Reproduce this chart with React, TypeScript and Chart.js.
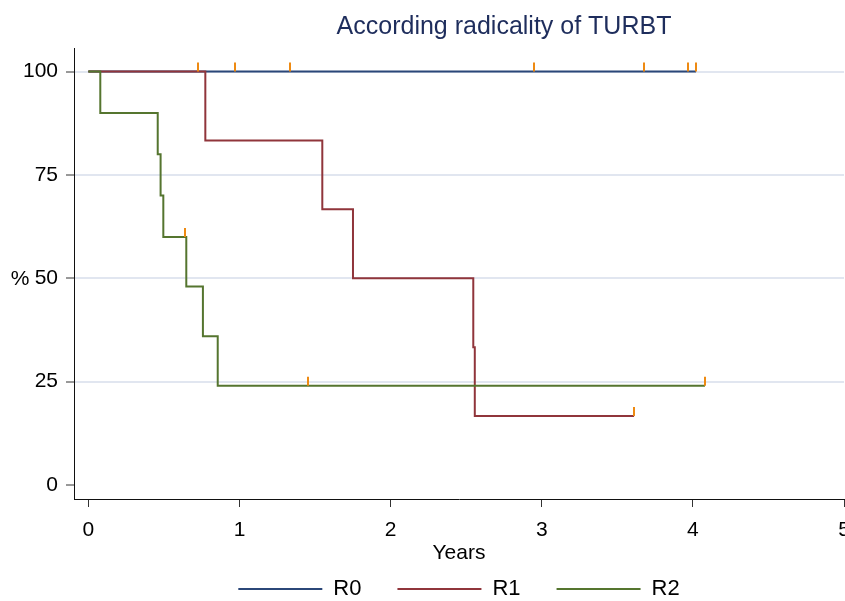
import React, { useEffect, useRef } from "react";
import { Chart, registerables } from "chart.js";

Chart.register(...registerables);

// ---- data ----
const seriesNames = ["R0", "R1", "R2"];
const seriesColors = ["#2b4778", "#90353b", "#55752f"];
const censorColor = "#ee8a12";

const r0Times = [0, 4.021];
const r0Surv = [100, 100];
const r1Times = [0, 0.774, 1.548, 1.751, 2.547, 2.557, 3.611];
const r1Surv = [100, 83.33, 66.67, 50, 33.33, 16.67, 16.67];
const r2Times = [0, 0.079, 0.459, 0.478, 0.496, 0.648, 0.758, 0.856, 4.08];
const r2Surv = [100, 90, 80, 70, 60, 48, 36, 24, 24];

const r0CensorTimes = [0.723, 0.972, 1.334, 2.951, 3.677, 3.968, 4.021];
const r0CensorSurv = [100, 100, 100, 100, 100, 100, 100];
const r1CensorTimes = [3.611];
const r1CensorSurv = [16.67];
const r2CensorTimes = [0.641, 1.453, 4.08];
const r2CensorSurv = [60, 24, 24];

const xTicks = [0, 1, 2, 3, 4, 5];
const yTicks = [0, 25, 50, 75, 100];

const titleText = "According radicality of TURBT";
const xTitle = "Years";
const yTitle = "%";

const FONT = "'Liberation Sans', Arial, Helvetica, sans-serif";

const toPoints = (t: number[], s: number[]) => t.map((x, i) => ({ x, y: s[i] }));

const censorPlugin = {
  id: "censorTicks",
  afterDatasetsDraw(chart: any) {
    const { ctx, scales } = chart;
    const xs = scales.x;
    const ys = scales.y;
    const groups: [number[], number[]][] = [
      [r0CensorTimes, r0CensorSurv],
      [r1CensorTimes, r1CensorSurv],
      [r2CensorTimes, r2CensorSurv],
    ];
    ctx.save();
    ctx.strokeStyle = censorColor;
    ctx.lineWidth = 2;
    groups.forEach(([ts, ss]) => {
      ts.forEach((t, i) => {
        const px = Math.round(xs.getPixelForValue(t));
        const py = ys.getPixelForValue(ss[i]);
        ctx.beginPath();
        ctx.moveTo(px, py);
        ctx.lineTo(px, py - 9);
        ctx.stroke();
      });
    });
    ctx.restore();
  },
};

const textPlugin = {
  id: "extraText",
  afterDraw(chart: any) {
    const { ctx, scales } = chart;
    ctx.save();
    ctx.fillStyle = "#1e2d5c";
    ctx.font = `25px ${FONT}`;
    ctx.textAlign = "center";
    ctx.textBaseline = "middle";
    ctx.fillText(titleText, 504, 27);
    ctx.fillStyle = "#000";
    ctx.font = `21px ${FONT}`;
    ctx.fillText(yTitle, 20, scales.y.getPixelForValue(50) + 1);
    ctx.restore();
  },
};

export default function App() {
  const ref = useRef<HTMLCanvasElement>(null);
  useEffect(() => {
    if (!ref.current) return;
    Chart.defaults.font.family = FONT;
    const chart = new Chart(ref.current, {
      type: "line",
      data: {
        datasets: [
          { label: seriesNames[0], data: toPoints(r0Times, r0Surv), order: 3 },
          { label: seriesNames[1], data: toPoints(r1Times, r1Surv), order: 2 },
          { label: seriesNames[2], data: toPoints(r2Times, r2Surv), order: 1 },
        ].map((d, i) => ({
          ...d,
          borderColor: seriesColors[i],
          backgroundColor: seriesColors[i],
          borderWidth: 2,
          stepped: "before" as const,
          pointRadius: 0,
          fill: false,
        })),
      },
      options: {
        animation: false,
        responsive: false,
        layout: { padding: { top: 48, left: 0, right: 1, bottom: -9 } },
        scales: {
          x: {
            type: "linear",
            min: -0.095,
            max: 5,
            afterBuildTicks: (s: any) => {
              s.ticks = xTicks.map((v) => ({ value: v }));
            },
            afterFit: (s: any) => {
              s.height = 43;
              s.paddingLeft = 0;
              s.paddingRight = 0;
            },
            ticks: {
              autoSkip: false,
              maxRotation: 0,
              padding: 11,
              color: "#000",
              font: { size: 21 },
            },
            grid: {
              drawOnChartArea: false,
              drawTicks: true,
              tickLength: 8,
              tickColor: "#333",
              tickWidth: 1,
            },
            border: { display: true, color: "#111", width: 1 },
            title: {
              display: true,
              text: xTitle,
              color: "#000",
              font: { size: 21 },
              padding: { top: 0, bottom: -24 },
            },
          },
          y: {
            type: "linear",
            min: -3.38,
            max: 105.7,
            afterBuildTicks: (s: any) => {
              s.ticks = yTicks.map((v) => ({ value: v }));
            },
            afterFit: (s: any) => {
              s.width = 74;
            },
            ticks: {
              padding: 8,
              color: "#000",
              font: { size: 21 },
            },
            grid: {
              color: (c: any) => (c.tick && c.tick.value === 0 ? "rgba(0,0,0,0)" : "#e1e6f0"),
              lineWidth: 2,
              drawTicks: true,
              tickLength: 8,
              tickColor: "#333",
              tickWidth: 1,
            },
            border: { display: true, color: "#111", width: 1 },
          },
        },
        plugins: {
          title: { display: false },
          tooltip: { enabled: false },
          legend: {
            display: true,
            position: "bottom",
            fullSize: false,
            labels: {
              boxWidth: 84,
              boxHeight: 2,
              padding: 36,
              color: "#000",
              font: { size: 22 },
              sort: (a: any, b: any) => a.datasetIndex - b.datasetIndex,
              generateLabels: (ch: any) =>
                (Chart.defaults.plugins.legend.labels.generateLabels as any)(ch).map((l: any) => ({
                  ...l,
                  lineWidth: 0,
                })),
            },
          },
        },
      },
      plugins: [censorPlugin, textPlugin],
    });
    return () => chart.destroy();
  }, []);
  return (
    <div style={{ position: "absolute", left: 0, top: 0, width: 845, height: 601, background: "#fff" }}>
      <canvas ref={ref} width={845} height={601} />
    </div>
  );
}
